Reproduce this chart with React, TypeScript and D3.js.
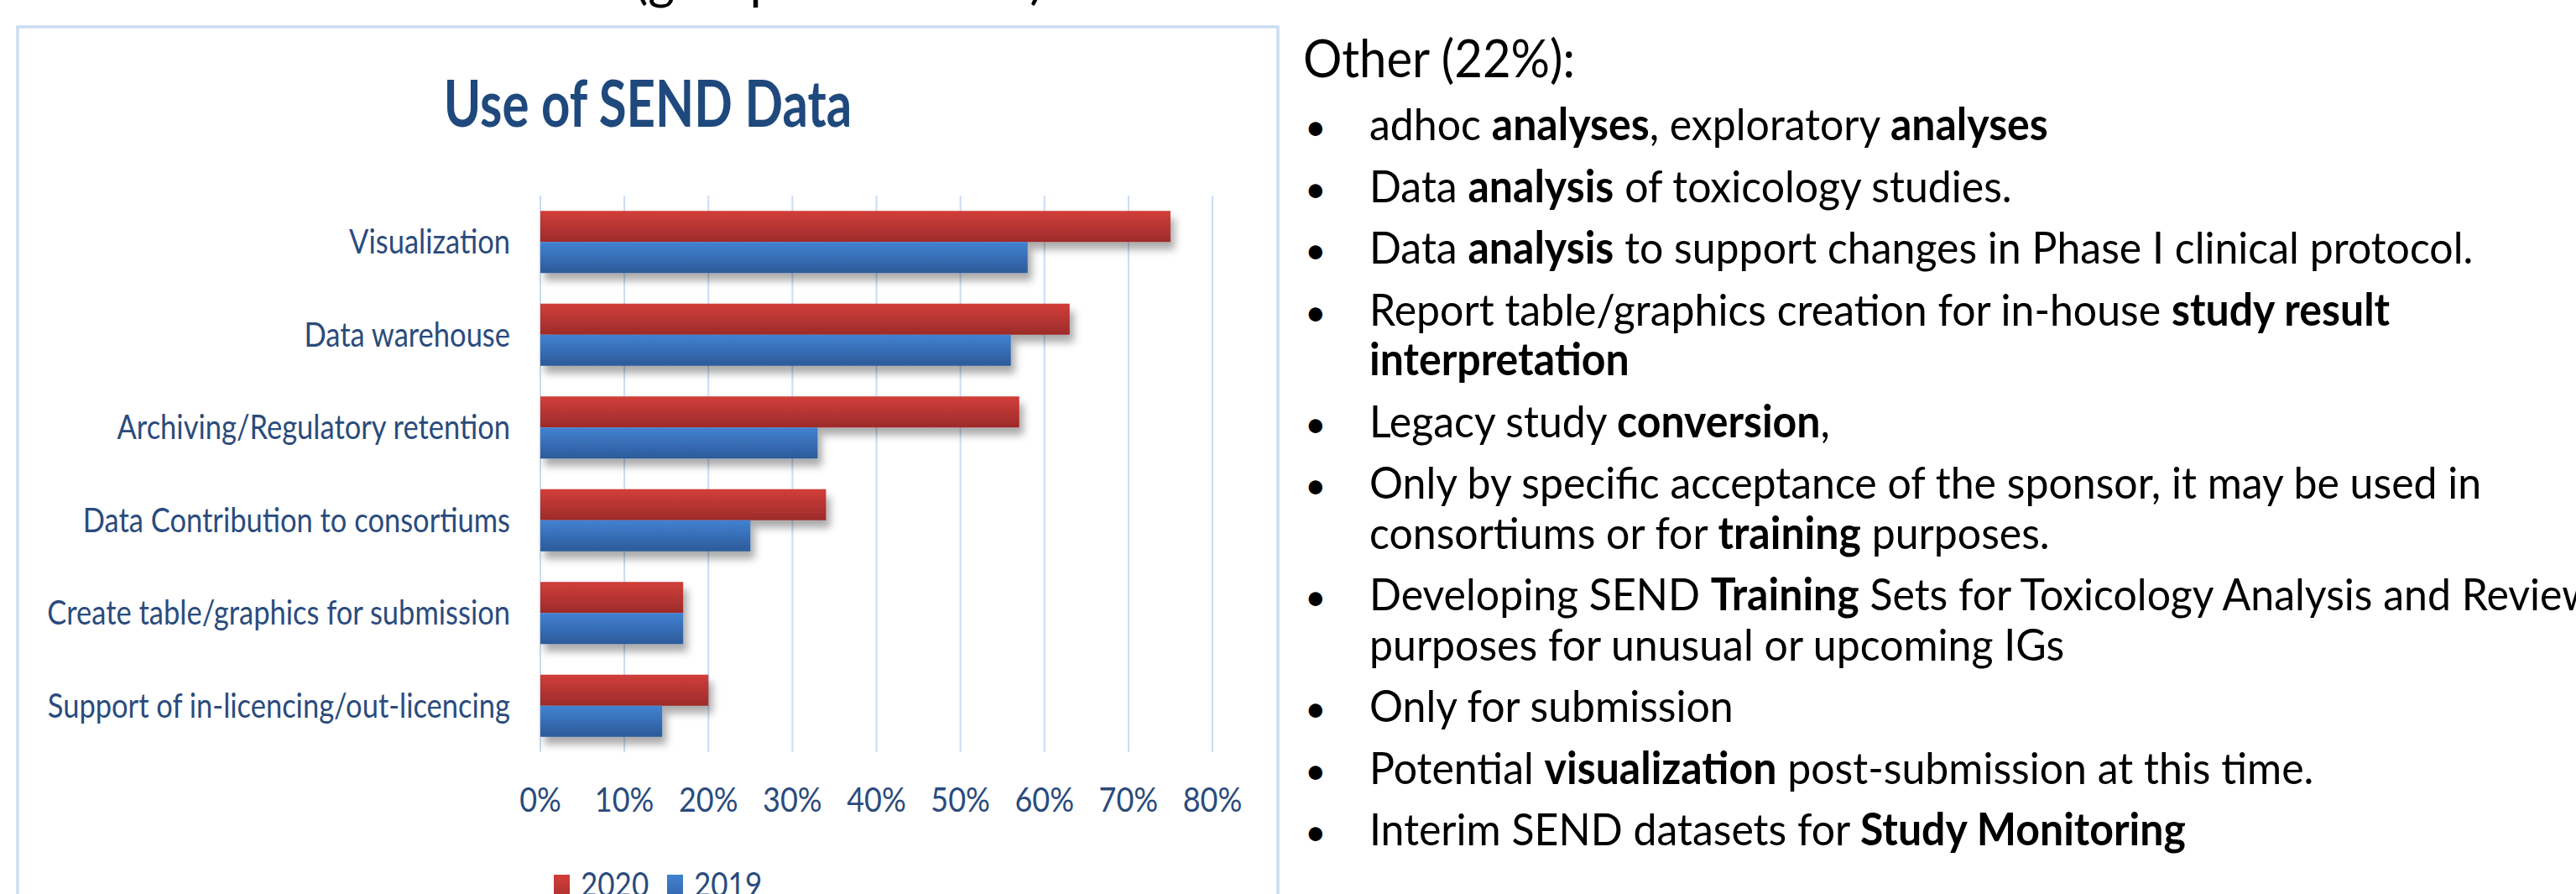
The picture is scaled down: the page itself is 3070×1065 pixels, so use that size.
import React from "react";
import * as d3 from "d3";

const categories = [
  "Visualization",
  "Data warehouse",
  "Archiving/Regulatory retention",
  "Data Contribution to consortiums",
  "Create table/graphics for submission",
  "Support of in-licencing/out-licencing",
];
const values2020 = [75, 63, 57, 34, 17, 20];
const values2019 = [58, 56, 33, 25, 17, 14.5];
const seriesNames = ["2020", "2019"];
const tickValues = [0, 10, 20, 30, 40, 50, 60, 70, 80];
const chartTitle = "Use of SEND Data";
const headingFragment = "(grouped answers)";
const otherTitle = "Other (22%):";
// each bullet: list of lines, each line a list of [text, bold]
const bullets: [string, boolean][][][] = [
  [[["adhoc ", false], ["analyses", true], [", exploratory ", false], ["analyses", true]]],
  [[["Data ", false], ["analysis", true], [" of toxicology studies.", false]]],
  [[["Data ", false], ["analysis", true], [" to support changes in Phase I clinical protocol.", false]]],
  [
    [["Report table/graphics creation for in-house ", false], ["study result", true]],
    [["interpretation", true]],
  ],
  [[["Legacy study ", false], ["conversion", true], [",", false]]],
  [
    [["Only by specific acceptance of the sponsor, it may be used in", false]],
    [["consortiums or for ", false], ["training", true], [" purposes.", false]],
  ],
  [
    [["Developing SEND ", false], ["Training", true], [" Sets for Toxicology Analysis and Review", false]],
    [["purposes for unusual or upcoming IGs", false]],
  ],
  [[["Only for submission", false]]],
  [[["Potential ", false], ["visualization", true], [" post-submission at this time.", false]]],
  [[["Interim SEND datasets for ", false], ["Study Monitoring", true]]],
];

const W = 3070;
const H = 1065;
const FONT = "Lato, 'Open Sans', sans-serif";
const AXIS_COLOR = "#2A4B7C";
const TITLE_COLOR = "#1F497D";
const GRID = "#C9DCF2";

function SText({ x, y, k, anchor, size, weight, fill, children }: any) {
  return (
    <text
      transform={`translate(${x},${y}) scale(1,${k})`}
      textAnchor={anchor}
      fontSize={size}
      fontWeight={weight || "normal"}
      fill={fill}
      fontFamily={FONT}
    >
      {children}
    </text>
  );
}

export default function App() {
  const x = d3.scaleLinear().domain([0, 80]).range([644, 1445]);
  const y = d3
    .scaleBand<string>()
    .domain(categories)
    .range([233, 896])
    .paddingInner(0.33)
    .paddingOuter(0.165);
  const sub = d3.scaleBand<string>().domain(seriesNames).range([0, y.bandwidth()]);
  const rows = categories.map((c, i) => ({ c, v: [values2020[i], values2019[i]] }));

  // right text layout
  const lineH = 59.5;
  const paraGap = 14;
  let cy = 167;
  const rightLines: { y: number; bullet: boolean; parts: [string, boolean][] }[] = [];
  bullets.forEach((b) => {
    b.forEach((ln, j) => {
      rightLines.push({ y: cy, bullet: j === 0, parts: ln });
      cy += lineH;
    });
    cy += paraGap;
  });

  return (
    <svg
      width={W}
      height={H}
      style={{ position: "absolute", left: 0, top: 0, background: "#fff" }}
    >
      <defs>
        <linearGradient id="gRed" x1="0" y1="0" x2="0" y2="1">
          <stop offset="0" stopColor="#D23E3A" />
          <stop offset="1" stopColor="#9C2B2A" />
        </linearGradient>
        <linearGradient id="gBlue" x1="0" y1="0" x2="0" y2="1">
          <stop offset="0" stopColor="#4282D2" />
          <stop offset="1" stopColor="#2C5A99" />
        </linearGradient>
        <filter id="shadow" x="-10%" y="-30%" width="130%" height="190%">
          <feDropShadow dx="5" dy="9" stdDeviation="5" floodColor="#000" floodOpacity="0.33" />
        </filter>
      </defs>
      <rect x={0} y={0} width={W} height={H} fill="#fff" />

      {/* cut-off heading */}
      <text x={756} y={-2} fontSize={61} fontFamily={FONT} fill="#000">
        {headingFragment}
      </text>

      {/* chart frame */}
      <rect x={21} y={32} width={1502} height={H + 40} fill="none" stroke="#CCDDF2" strokeWidth={3.5} />

      <SText x={772} y={151} k={1.27} anchor="middle" size={60} weight="bold" fill={TITLE_COLOR}>
        {chartTitle}
      </SText>

      {/* gridlines */}
      {tickValues.map((t) => (
        <line key={t} x1={x(t)} x2={x(t)} y1={233} y2={896} stroke={GRID} strokeWidth={2} />
      ))}

      {/* bars: 2020 first, then 2019 */}
      {seriesNames.map((s, si) =>
        rows.map((r) => (
          <rect
            key={s + r.c}
            x={x(0)}
            y={(y(r.c) as number) + (sub(s) as number)}
            width={x(r.v[si]) - x(0)}
            height={sub.bandwidth()}
            fill={si === 0 ? "url(#gRed)" : "url(#gBlue)"}
            filter="url(#shadow)"
          />
        ))
      )}

      {/* category labels */}
      {categories.map((c) => (
        <SText
          key={c}
          x={608}
          y={(y(c) as number) + y.bandwidth() / 2 + 14}
          k={1.18}
          anchor="end"
          size={34.5}
          fill={AXIS_COLOR}
        >
          {c}
        </SText>
      ))}

      {/* tick labels */}
      {tickValues.map((t) => (
        <SText key={t} x={x(t)} y={967} k={1.15} anchor="middle" size={36} fill={AXIS_COLOR}>
          {t + "%"}
        </SText>
      ))}

      {/* legend */}
      <rect x={660} y={1042} width={19} height={40} fill="url(#gRed)" />
      <SText x={692} y={1068} k={1.15} anchor="start" size={35} fill={AXIS_COLOR}>
        {seriesNames[0]}
      </SText>
      <rect x={795} y={1042} width={19} height={40} fill="url(#gBlue)" />
      <SText x={827} y={1068} k={1.15} anchor="start" size={35} fill={AXIS_COLOR}>
        {seriesNames[1]}
      </SText>

      {/* right side text */}
      <SText x={1553} y={92} k={1.08} anchor="start" size={58} fill="#000">
        {otherTitle}
      </SText>
      {rightLines.map((ln, i) => (
        <g key={i}>
          {ln.bullet && (
            <text x={1555} y={ln.y} fontSize={44} fontFamily={FONT} fill="#000">
              •
            </text>
          )}
          <text
            transform={`translate(1632,${ln.y}) scale(1,1.06)`}
            fontSize={50}
            fontFamily={FONT}
            fill="#000"
          >
            {ln.parts.map((p, j) => (
              <tspan key={j} fontWeight={p[1] ? "bold" : "normal"}>
                {p[0]}
              </tspan>
            ))}
          </text>
        </g>
      ))}
    </svg>
  );
}
